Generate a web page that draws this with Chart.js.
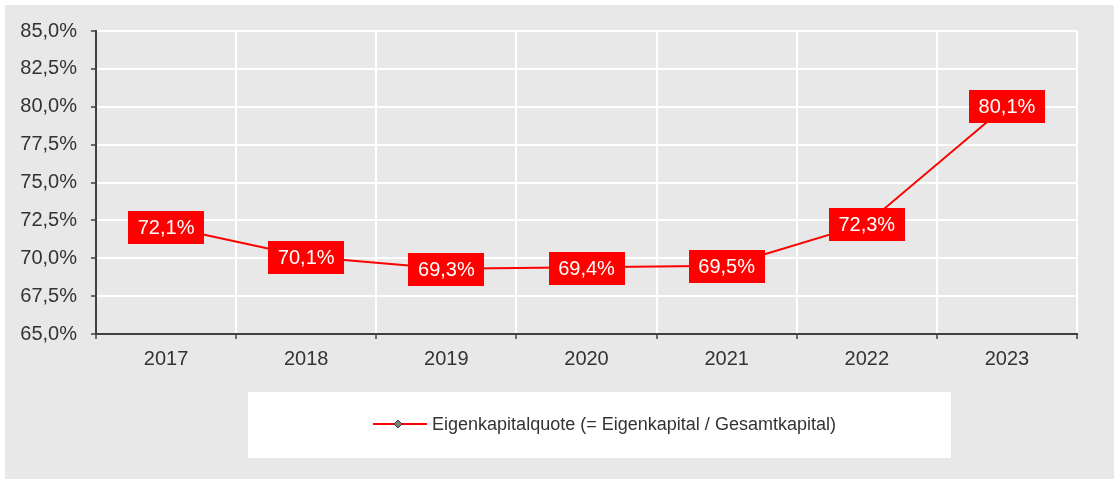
<!DOCTYPE html>
<html>
<head>
<meta charset="utf-8">
<script src="https://cdn.jsdelivr.net/npm/chart.js@4/dist/chart.umd.min.js"></script>
<style>
  html, body { margin: 0; padding: 0; background: #ffffff; }
  canvas { display: block; }
</style>
</head>
<body>
<canvas id="c" width="1114" height="479"></canvas>
<script>
const categories = ['2017', '2018', '2019', '2020', '2021', '2022', '2023'];
const equityRatio = [72.1, 70.1, 69.3, 69.4, 69.5, 72.3, 80.1];
const seriesLabel = 'Eigenkapitalquote (= Eigenkapital / Gesamtkapital)';
const yMin = 65, yMax = 85, yStep = 2.5;

const FONT = '"Liberation Sans", Arial, sans-serif';
const fmt = v => v.toFixed(1).replace('.', ',') + '%';

const bgPlugin = {
  id: 'bg',
  beforeDraw(chart) {
    const ctx = chart.ctx;
    ctx.save();
    ctx.fillStyle = '#ffffff';
    ctx.fillRect(0, 0, chart.width, chart.height);
    ctx.fillStyle = '#e8e8e8';
    ctx.fillRect(5, 5, chart.width - 5, chart.height - 5);
    ctx.restore();
  }
};

const labelPlugin = {
  id: 'valueLabels',
  afterDatasetsDraw(chart) {
    const ctx = chart.ctx;
    const meta = chart.getDatasetMeta(0);
    ctx.save();
    ctx.font = '20px ' + FONT;
    ctx.textAlign = 'center';
    ctx.textBaseline = 'middle';
    meta.data.forEach((pt, i) => {
      const txt = fmt(equityRatio[i]);
      const w = 76, h = 33;
      ctx.fillStyle = '#ff0000';
      ctx.fillRect(Math.round(pt.x - w / 2), Math.round(pt.y - h / 2 + 1), w, h);
      ctx.fillStyle = '#ffffff';
      ctx.fillText(txt, pt.x, pt.y + 2);
    });
    ctx.restore();
  }
};

const legendPlugin = {
  id: 'customLegend',
  afterDraw(chart) {
    const ctx = chart.ctx;
    ctx.save();
    ctx.fillStyle = '#ffffff';
    ctx.fillRect(248, 392, 703, 66);
    const cy = 424;
    ctx.strokeStyle = '#ff0000';
    ctx.lineWidth = 2;
    ctx.beginPath();
    ctx.moveTo(373, cy);
    ctx.lineTo(427, cy);
    ctx.stroke();
    // diamond marker
    ctx.fillStyle = '#7a7a7a';
    ctx.strokeStyle = '#404040';
    ctx.lineWidth = 1;
    ctx.beginPath();
    ctx.moveTo(398, cy - 4);
    ctx.lineTo(402, cy);
    ctx.lineTo(398, cy + 4);
    ctx.lineTo(394, cy);
    ctx.closePath();
    ctx.fill();
    ctx.stroke();
    ctx.fillStyle = '#333333';
    ctx.font = '18px ' + FONT;
    ctx.textAlign = 'left';
    ctx.textBaseline = 'middle';
    const target = 404;
    const tw = ctx.measureText(seriesLabel).width;
    ctx.translate(432, cy + 1);
    ctx.scale(target / tw, 1);
    ctx.fillText(seriesLabel, 0, 0);
    ctx.restore();
  }
};

new Chart(document.getElementById('c'), {
  type: 'line',
  data: {
    labels: categories,
    datasets: [{
      label: seriesLabel,
      data: equityRatio,
      borderColor: '#ff0000',
      borderWidth: 2,
      pointRadius: 0,
      tension: 0,
      fill: false
    }]
  },
  options: {
    responsive: false,
    animation: false,
    events: [],
    layout: { padding: { top: 31, right: 37, left: 0, bottom: 0 } },
    plugins: { legend: { display: false }, tooltip: { enabled: false } },
    scales: {
      x: {
        offset: true,
        grid: { offset: true, color: '#ffffff', lineWidth: 2, drawTicks: true, tickLength: 5, tickColor: '#404040', tickWidth: 1.5 },
        border: { color: '#404040', width: 2 },
        ticks: { color: '#333333', font: { family: FONT, size: 20 }, padding: 8, maxRotation: 0 },
        afterFit(s) { s.height = 479 - 334; }
      },
      y: {
        min: yMin, max: yMax,
        grid: { color: '#ffffff', lineWidth: 2, drawTicks: true, tickLength: 5, tickColor: '#404040', tickWidth: 1.5 },
        border: { color: '#404040', width: 2 },
        ticks: { stepSize: yStep, color: '#333333', font: { family: FONT, size: 20 }, padding: 14, callback: v => fmt(v) },
        afterFit(s) { s.width = 96; }
      }
    }
  },
  plugins: [bgPlugin, labelPlugin, legendPlugin]
});
</script>
</body>
</html>
